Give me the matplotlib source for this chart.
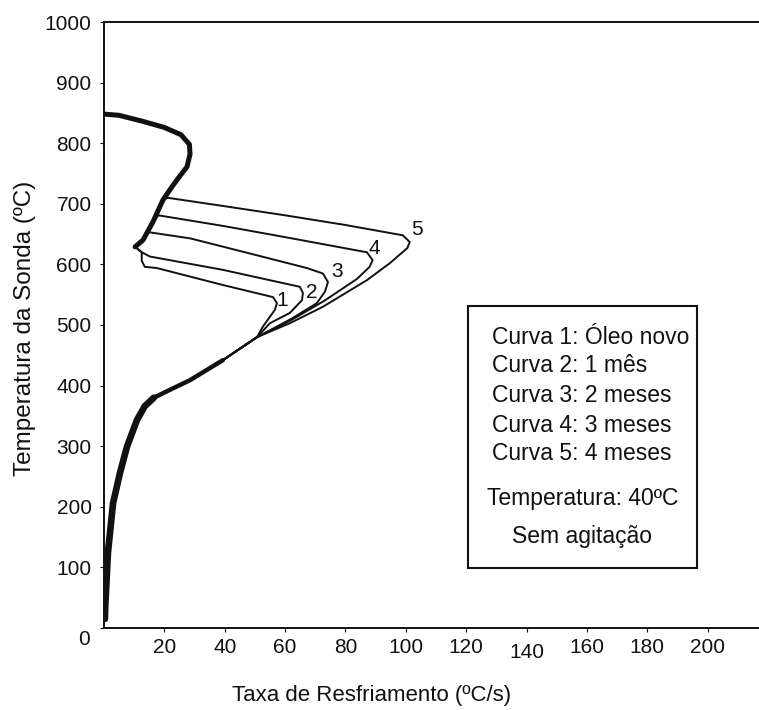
import numpy as np
import matplotlib
matplotlib.use("Agg")
import matplotlib.pyplot as plt
from matplotlib.patches import Rectangle
from matplotlib.transforms import ScaledTranslation

plt.rcParams['font.family'] = ['Liberation Sans', 'DejaVu Sans']

# trecho comum superior (camada de vapor)
top_x = [0, 5, 12.9, 20, 25.5, 28.3, 28.5, 27.5, 25, 22.5, 19.5, 16.2, 12.9, 10.3]
top_y = [848, 846, 836, 826, 814, 798, 782, 761, 745, 728, 706, 670, 640, 629]

# trecho comum inferior (convecção)
bot_x = [50.7, 39.4, 28.5, 21.0, 16.5, 13.5, 10.9, 7.6, 5.3, 3.0, 1.3, 0.4, 0.3]
bot_y = [480, 442, 409, 391, 380, 366, 343, 299, 256, 206, 124, 35, 15]

# ramos de cada curva: ponto de saída no trecho superior + trecho próprio
branch_idx = {1: 13, 2: 13, 3: 12, 4: 11, 5: 10}
curve_x = {
    1: [12.5, 12.5, 13.5, 17.5, 39.4, 56.0, 57.3, 56.6, 52.6],
    2: [12.5, 15.2, 39.4, 64.9, 65.9, 65.6, 61.6, 55.0],
    3: [15.0, 28.5, 50.7, 67.2, 72.5, 74.2, 73.2, 70.5, 62.0],
    4: [18.0, 40.0, 60.0, 87.1, 89.0, 88.0, 83.8, 73.0, 62.0],
    5: [21.0, 40.0, 60.0, 80.0, 99.0, 101.3, 100.5, 94.7, 87.1, 72.5, 61.6],
}
curve_y = {
    1: [620, 606, 596, 594, 566, 546, 536, 525, 497],
    2: [620, 613, 591, 563, 553, 541, 520, 503],
    3: [653, 643, 615, 594, 585, 571, 555, 536, 510],
    4: [681, 663, 645, 620, 607, 596, 576, 540, 508],
    5: [710, 696, 681, 665, 648, 637, 627, 602, 574, 530, 503],
}
label_x = {1: 58.9, 2: 68.9, 3: 77.2, 4: 89.7, 5: 103.6}
label_y = {1: 541, 2: 554, 3: 588, 4: 627, 5: 657}

legend_lines = ["Curva 1: Óleo novo", "Curva 2: 1 mês", "Curva 3: 2 meses",
                "Curva 4: 3 meses", "Curva 5: 4 meses"]
legend_notes = ["Temperatura: 40ºC", "Sem agitação"]

x_ticks = [20, 40, 60, 80, 100, 120, 140, 160, 180, 200]
y_ticks = [0, 100, 200, 300, 400, 500, 600, 700, 800, 900, 1000]

ink = '#111111'

fig = plt.figure(figsize=(7.59, 7.10), dpi=100)
ax = fig.add_axes([104 / 759, 82 / 710, 1 - 104 / 759, 606 / 710])

for k in range(1, 6):
    i = branch_idx[k]
    xs = top_x[:i + 1] + curve_x[k] + bot_x
    ys = top_y[:i + 1] + curve_y[k] + bot_y
    ax.plot(xs, ys, color=ink, lw=1.4, solid_joinstyle='round')
    ax.text(label_x[k], label_y[k], str(k), fontsize=15, color=ink,
            ha='center', va='center')

ax.plot(top_x, top_y, color=ink, lw=3.6, solid_capstyle='round',
        solid_joinstyle='round')
ax.plot(bot_x[1:], bot_y[1:], color=ink, lw=3.2, solid_capstyle='round',
        solid_joinstyle='round')
ax.plot(bot_x[4:], bot_y[4:], color=ink, lw=4.8, solid_capstyle='round',
        solid_joinstyle='round')

ax.set_xlim(0, 217)
ax.set_ylim(0, 1000)
ax.set_xticks(x_ticks)
ax.set_yticks(y_ticks)
ax.tick_params(axis='both', direction='out', length=3, width=0.8,
               labelsize=15, colors=ink)
ax.tick_params(axis='x', pad=4)
ax.tick_params(axis='y', pad=6)
for s in ['left', 'bottom', 'top']:
    ax.spines[s].set_linewidth(1.4)
    ax.spines[s].set_color(ink)
ax.spines['right'].set_visible(False)

# o rótulo 140 e o 0 aparecem um pouco mais baixos no original
for lab in ax.get_xticklabels():
    if lab.get_text() == '140':
        lab.set_transform(lab.get_transform() +
                          ScaledTranslation(0, -4 / 72, fig.dpi_scale_trans))
for lab in ax.get_yticklabels():
    if lab.get_text() == '0':
        lab.set_transform(lab.get_transform() +
                          ScaledTranslation(-1 / 72, -7 / 72, fig.dpi_scale_trans))

fig.text(372 / 759, 1 - 696 / 710, "Taxa de Resfriamento (ºC/s)",
         fontsize=16, color=ink, ha='center', va='center')
fig.text(25 / 759, 1 - 328 / 710, "Temperatura da Sonda (ºC)",
         fontsize=17.5, color=ink, ha='center', va='center', rotation=90)

# caixa de legenda
x0, x1 = 468 / 759, 697 / 759
y0, y1 = 1 - 568 / 710, 1 - 306 / 710
fig.add_artist(Rectangle((x0, y0), x1 - x0, y1 - y0, transform=fig.transFigure,
                         fill=False, lw=1.5, ec=ink))
line_y = [337, 365, 395, 425, 453]
for txt, py in zip(legend_lines, line_y):
    fig.text(492 / 759, 1 - py / 710, txt, fontsize=16.5, color=ink,
             ha='left', va='center')
for txt, py in zip(legend_notes, [498, 537]):
    fig.text((x0 + x1) / 2, 1 - py / 710, txt, fontsize=16.5, color=ink,
             ha='center', va='center')

fig.savefig("out.png", dpi=100, facecolor='white')
